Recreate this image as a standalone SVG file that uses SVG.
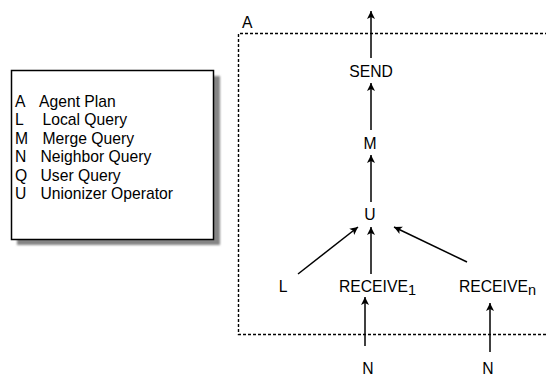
<svg xmlns="http://www.w3.org/2000/svg" width="546" height="376" viewBox="0 0 546 376">
  <style>
    text { font-family: "Liberation Sans", Arial, sans-serif; font-size: 15.7px; fill: #000; }
    .sub { font-size: 14.5px; }
    .edge { stroke: #000; stroke-width: 1.5; fill: none; marker-end: url(#arrow); }
    .frame { stroke: #000; stroke-width: 1.4; fill: none; stroke-dasharray: 3 2; }
  </style>
  <defs>
    <marker id="arrow" viewBox="0 0 8 16" refX="8" refY="8" markerWidth="8" markerHeight="16" markerUnits="userSpaceOnUse" orient="auto">
      <path d="M0,4 L8,8 L0,12 L2,8 Z" fill="#000"/>
    </marker>
    <filter id="soft" x="-10%" y="-10%" width="120%" height="120%">
      <feGaussianBlur stdDeviation="1"/>
    </filter>
  </defs>
  <rect width="546" height="376" fill="#fff"/>

  <!-- legend -->
  <g id="legend">
    <rect x="17" y="76" width="203" height="169" fill="#858585" filter="url(#soft)"/>
    <rect x="11.5" y="70.5" width="202" height="169" fill="#fff" stroke="#000" stroke-width="1.5"/>
    <text x="15" y="107">A</text><text x="39" y="107">Agent Plan</text>
    <text x="15" y="125.4">L</text><text x="42.5" y="125.4">Local Query</text>
    <text x="15" y="143.8">M</text><text x="42.5" y="143.8">Merge Query</text>
    <text x="15" y="162.2">N</text><text x="40.5" y="162.2">Neighbor Query</text>
    <text x="15" y="180.6">Q</text><text x="40.5" y="180.6">User Query</text>
    <text x="15" y="199">U</text><text x="40.5" y="199">Unionizer Operator</text>
  </g>

  <!-- agent plan boundary -->
  <g id="agent-plan">
    <path class="frame" d="M548,33.5 H238.5 V334.5 H548"/>
    <text x="242" y="28">A</text>
  </g>

  <g id="send"><text x="371" y="76.5" text-anchor="middle">SEND</text></g>
  <g id="merge"><text x="370" y="149" text-anchor="middle">M</text></g>
  <g id="union"><text x="370" y="220" text-anchor="middle">U</text></g>
  <g id="local"><text x="283" y="292" text-anchor="middle">L</text></g>
  <g id="receive1"><text x="339" y="292">RECEIVE<tspan class="sub" dy="3">1</tspan></text></g>
  <g id="receiven"><text x="459" y="292">RECEIVE<tspan class="sub" dy="3">n</tspan></text></g>
  <g id="neighbor1"><text x="368" y="374" text-anchor="middle">N</text></g>
  <g id="neighborn"><text x="488" y="374" text-anchor="middle">N</text></g>

  <!-- connectors -->
  <g id="connectors">
    <line class="edge" x1="371" y1="58" x2="371" y2="11"/>
    <line class="edge" x1="371" y1="130" x2="371" y2="83"/>
    <line class="edge" x1="371" y1="202" x2="371" y2="155"/>
    <line class="edge" x1="298" y1="274" x2="358" y2="227"/>
    <line class="edge" x1="371" y1="274" x2="371" y2="227"/>
    <line class="edge" x1="467" y1="262" x2="394" y2="227"/>
    <line class="edge" x1="365" y1="346" x2="365" y2="297"/>
    <line class="edge" x1="490" y1="352" x2="490" y2="303"/>
  </g>
</svg>
